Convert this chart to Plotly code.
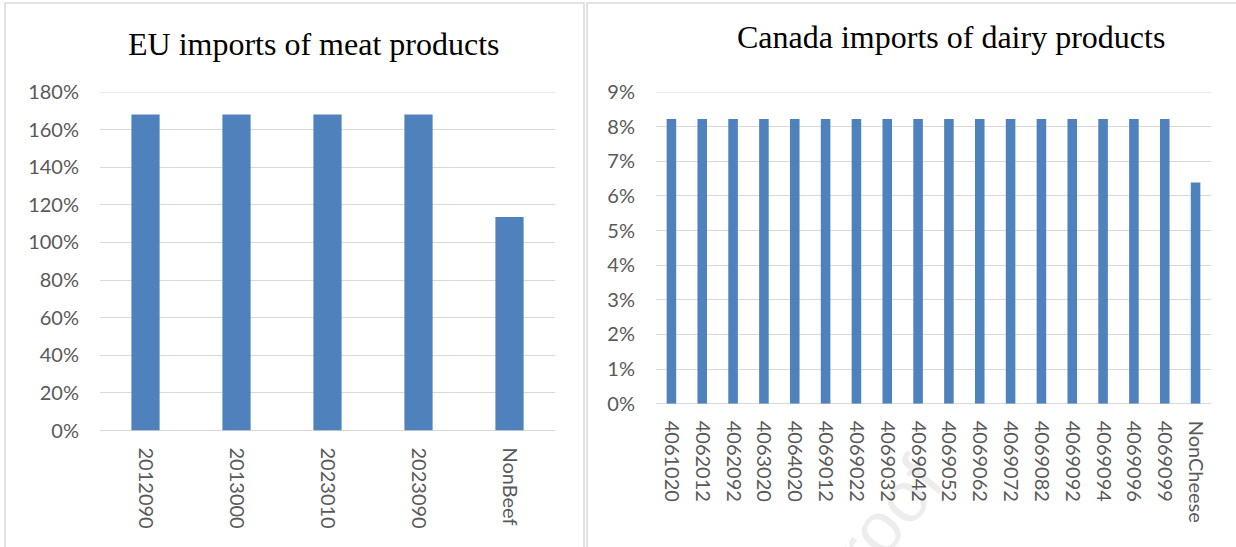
import plotly.graph_objects as go

W, H = 1236, 547

# EU meat import categories and shares
meat_codes = ["2012090", "2013000", "2023010", "2023090", "NonBeef"]
meat_values = [1.68, 1.68, 1.68, 1.68, 1.135]

# Canada dairy import categories and shares
dairy_codes = ["4061020", "4062012", "4062092", "4063020", "4064020", "4069012",
               "4069022", "4069032", "4069042", "4069052", "4069062", "4069072",
               "4069082", "4069092", "4069094", "4069096", "4069099", "NonCheese"]
dairy_values = [0.0822] * 17 + [0.0639]

meat_title = "EU imports of meat products"
dairy_title = "Canada imports of dairy products"

BAR = "#4F81BD"
GRID = "#D9D9D9"
LABEL = "#595959"
FONT = "Lato"

def px_x(v):
    return v / W

def px_y(v):
    return (H - v) / H

fig = go.Figure()
fig.add_trace(go.Bar(x=meat_codes, y=meat_values, marker_color=BAR,
                     marker_line_width=0, xaxis="x", yaxis="y"))
fig.add_trace(go.Bar(x=dairy_codes, y=dairy_values, marker_color=BAR,
                     marker_line_width=0, xaxis="x2", yaxis="y2"))

axis_font = dict(family=FONT, size=20, color=LABEL)

fig.update_layout(
    width=W, height=H,
    margin=dict(l=0, r=0, t=0, b=0, autoexpand=False),
    paper_bgcolor="white", plot_bgcolor="white",
    showlegend=False,
    bargap=0.69,
    xaxis=dict(domain=[px_x(100), px_x(555)], type="category",
               tickangle=90, tickfont=axis_font, showgrid=False,
               ticks="", ticklabelstandoff=16, showline=False, zeroline=False,
               anchor="y", automargin=False),
    yaxis=dict(domain=[px_y(430.5), px_y(92)], range=[0, 1.8], dtick=0.2,
               tickformat=".0%", tickfont=axis_font, showgrid=True,
               gridcolor=GRID, gridwidth=1, zeroline=True, zerolinecolor=GRID,
               zerolinewidth=1, ticks="", ticklabelstandoff=20, anchor="x",
               automargin=False),
    xaxis2=dict(domain=[px_x(656), px_x(1211)], type="category",
                tickangle=90, tickfont=axis_font, showgrid=False,
                ticks="", ticklabelstandoff=16, showline=False, zeroline=False,
                anchor="y2", automargin=False),
    yaxis2=dict(domain=[px_y(403.7), px_y(92)], range=[0, 0.09], dtick=0.01,
                tickformat=".0%", tickfont=axis_font, showgrid=True,
                gridcolor=GRID, gridwidth=1, zeroline=True, zerolinecolor=GRID,
                zerolinewidth=1, ticks="", ticklabelstandoff=20, anchor="x2",
                automargin=False),
)

# top gridlines at the range maximum
for yref, xref, top in [("y", "x", 1.8), ("y2", "x2", 0.09)]:
    fig.add_shape(type="line", xref=f"{xref} domain", yref=yref,
                  x0=0, x1=1, y0=top, y1=top,
                  line=dict(color=GRID, width=1), layer="below")

# panel frames
for x0, x1 in [(5, 584), (587, 1300)]:
    fig.add_shape(type="rect", xref="paper", yref="paper",
                  x0=px_x(x0), x1=px_x(x1), y0=px_y(600), y1=px_y(3),
                  line=dict(color=GRID, width=1.5), fillcolor="rgba(0,0,0,0)",
                  layer="below")

# chart titles
title_font = dict(family="Liberation Serif", size=32, color="black")
fig.add_annotation(text=meat_title, xref="paper", yref="paper",
                   x=px_x(313), y=px_y(44), xanchor="center", yanchor="middle",
                   showarrow=False, font=title_font)
fig.add_annotation(text=dairy_title, xref="paper", yref="paper",
                   x=px_x(951), y=px_y(37), xanchor="center", yanchor="middle",
                   showarrow=False, font=title_font)

# faint page watermark
fig.add_annotation(text="Journal Pre-proof", xref="paper", yref="paper",
                   x=px_x(750), y=px_y(680), xanchor="center", yanchor="middle",
                   showarrow=False, textangle=-50,
                   font=dict(family="Liberation Sans", size=72,
                             color="rgba(0,0,0,0.07)"))

fig.write_html("out.html")
